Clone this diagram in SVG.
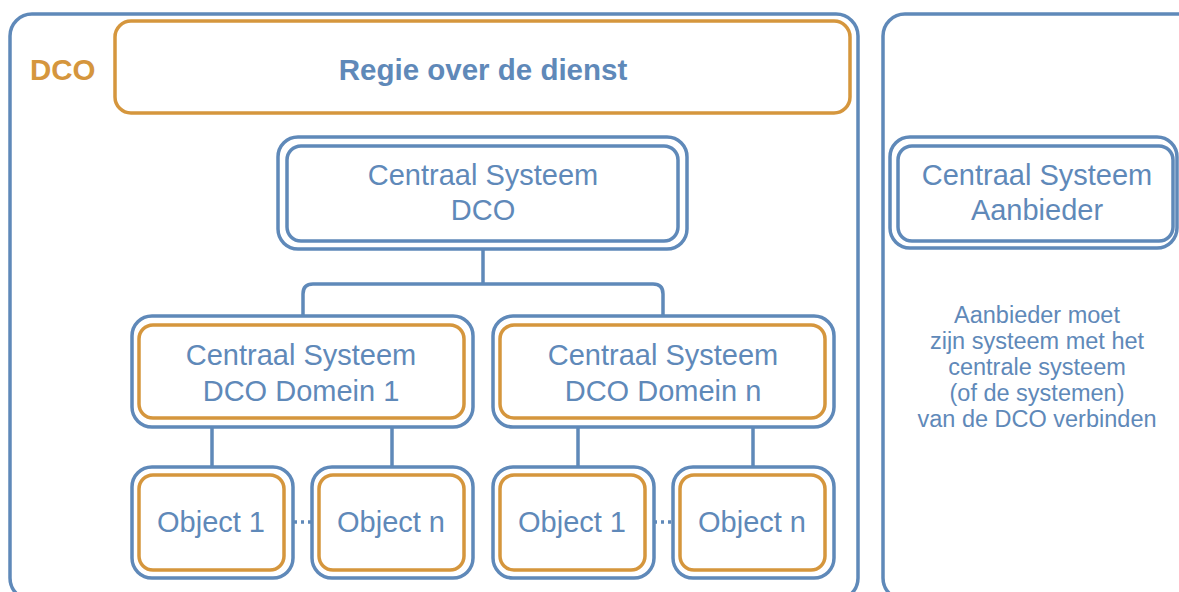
<svg xmlns="http://www.w3.org/2000/svg" width="1179" height="592" viewBox="0 0 1179 592">
<style>
.b{fill:#fff;stroke:#5F89B9;stroke-width:3.5}
.o{fill:#fff;stroke:#D5963D;stroke-width:3.5}
.bi{fill:none;stroke:#5F89B9;stroke-width:3.5}
.t{font-family:"Liberation Sans",Arial,sans-serif;fill:#5F89B9;text-anchor:middle;font-size:29px}
.s{font-family:"Liberation Sans",Arial,sans-serif;fill:#5F89B9;text-anchor:middle;font-size:23.5px}
.h{font-family:"Liberation Sans",Arial,sans-serif;font-weight:bold;font-size:29.5px}
.c{fill:none;stroke:#5F89B9;stroke-width:3.5}
</style>
<rect width="1179" height="592" fill="#fff"/>
<g id="dco-container">
<rect class="b" x="10" y="14" width="848" height="586" rx="22"/>
<text class="h" x="30" y="80" fill="#D5963D">DCO</text>
</g>
<g id="aanbieder-container">
<rect class="b" x="883" y="14" width="320" height="586" rx="22"/>
</g>
<g id="regie">
<rect class="o" x="115" y="21" width="735" height="92" rx="16"/>
<text class="h" x="483" y="80" fill="#5F89B9" text-anchor="middle">Regie over de dienst</text>
</g>
<g id="connectors">
<path class="c" d="M483 249 V284"/>
<path class="c" d="M303 318 V294 Q303 284 313 284 H653 Q663 284 663 294 V318"/>
<path class="c" d="M212 427 V467 M392 427 V467 M578 427 V467 M753 427 V467"/>
<path class="c" d="M294 522 H312 M654 522 H673" stroke-dasharray="3 4"/>
</g>
<g id="cs-dco">
<rect class="b" x="278" y="137" width="409" height="112" rx="20"/>
<rect class="bi" x="287" y="146" width="391" height="95" rx="14"/>
<text class="t" x="483" y="185">Centraal Systeem</text>
<text class="t" x="483" y="220">DCO</text>
</g>
<g id="domein-1">
<rect class="b" x="132" y="316" width="341" height="111" rx="20"/>
<rect class="o" x="139" y="325" width="325" height="93" rx="14"/>
<text class="t" x="301" y="365">Centraal Systeem</text>
<text class="t" x="301" y="401">DCO Domein 1</text>
</g>
<g id="domein-n">
<rect class="b" x="493" y="316" width="341" height="111" rx="20"/>
<rect class="o" x="500" y="325" width="325" height="93" rx="14"/>
<text class="t" x="663" y="365">Centraal Systeem</text>
<text class="t" x="663" y="401">DCO Domein n</text>
</g>
<g id="d1-object-1">
<rect class="b" x="132" y="467" width="161" height="111" rx="20"/>
<rect class="o" x="139" y="475" width="145" height="95" rx="14"/>
<text class="t" x="211" y="532">Object 1</text>
</g>
<g id="d1-object-n">
<rect class="b" x="312" y="467" width="161" height="111" rx="20"/>
<rect class="o" x="319" y="475" width="145" height="95" rx="14"/>
<text class="t" x="391" y="532">Object n</text>
</g>
<g id="dn-object-1">
<rect class="b" x="493" y="467" width="161" height="111" rx="20"/>
<rect class="o" x="500" y="475" width="145" height="95" rx="14"/>
<text class="t" x="572" y="532">Object 1</text>
</g>
<g id="dn-object-n">
<rect class="b" x="673" y="467" width="161" height="111" rx="20"/>
<rect class="o" x="680" y="475" width="145" height="95" rx="14"/>
<text class="t" x="752" y="532">Object n</text>
</g>
<g id="cs-aanbieder">
<rect class="b" x="890" y="137" width="287" height="111" rx="20"/>
<rect class="bi" x="898" y="146" width="275" height="95" rx="14"/>
<text class="t" x="1037" y="185">Centraal Systeem</text>
<text class="t" x="1037" y="220">Aanbieder</text>
</g>
<g id="note">
<text class="s" x="1037" y="323">Aanbieder moet</text>
<text class="s" x="1037" y="349">zijn systeem met het</text>
<text class="s" x="1037" y="375">centrale systeem</text>
<text class="s" x="1037" y="401">(of de systemen)</text>
<text class="s" x="1037" y="427">van de DCO verbinden</text>
</g>
</svg>
